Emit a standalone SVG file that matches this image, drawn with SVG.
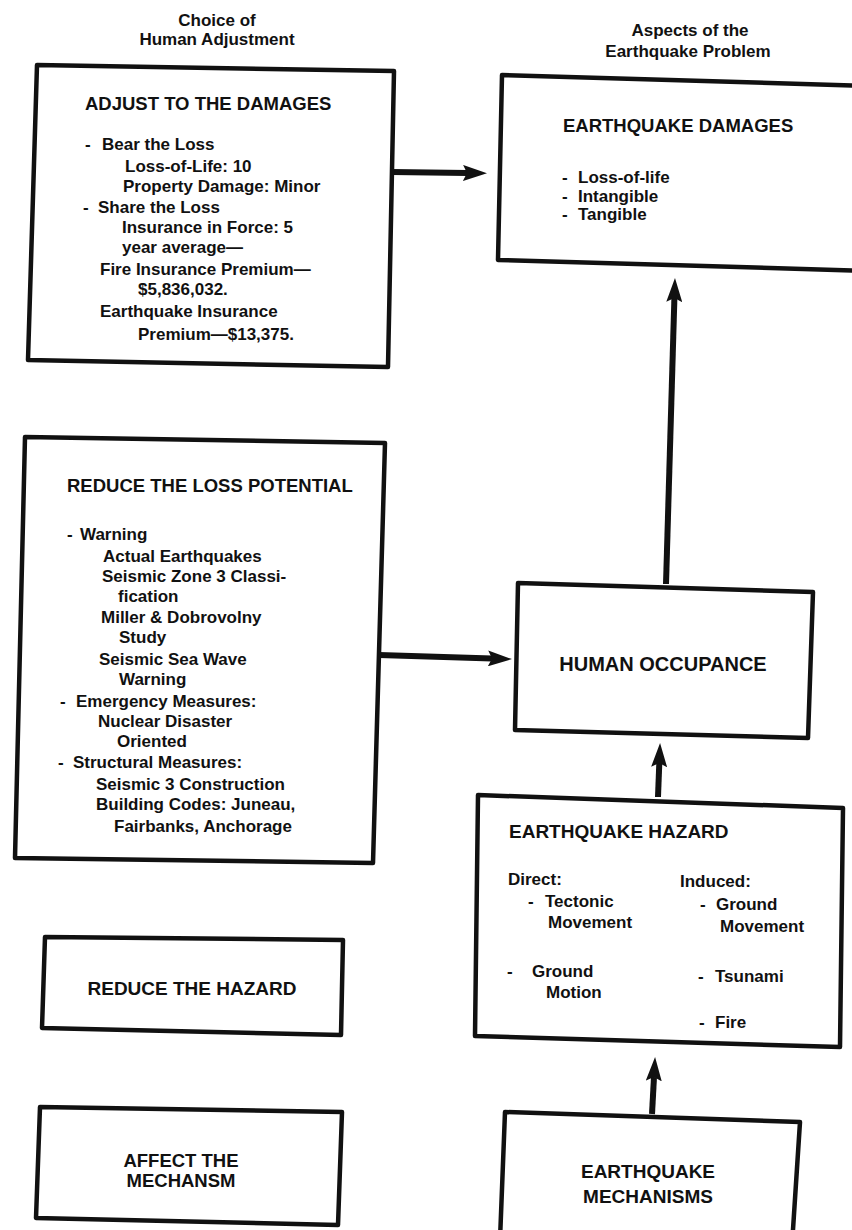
<svg xmlns="http://www.w3.org/2000/svg" width="852" height="1230" viewBox="0 0 852 1230">
<style>
text{font-family:"Liberation Sans",Arial,sans-serif;font-weight:bold;fill:#111}
.hd{font-size:17px;text-anchor:middle}
.tt{font-size:18.5px}
.bd{font-size:17px}
.c{text-anchor:middle}
.box{fill:#fff;stroke:#111;stroke-width:4.5;stroke-linejoin:round}
.con{fill:none;stroke:#111;stroke-width:6;stroke-linecap:butt}
</style>
<defs>
<marker id="ah" viewBox="0 0 24 16" refX="4" refY="8" markerWidth="24" markerHeight="16" markerUnits="userSpaceOnUse" orient="auto">
<path d="M0,0 L24,8 L0,16 L4,8 Z" fill="#111"/>
</marker>
</defs>
<rect width="852" height="1230" fill="#fff"/>

<g id="headings">
<text class="hd" x="217" y="26">Choice of</text>
<text class="hd" x="217" y="45">Human Adjustment</text>
<text class="hd" x="690" y="36">Aspects of the</text>
<text class="hd" x="688" y="57">Earthquake Problem</text>
</g>

<g id="connectors">
<line class="con" x1="392" y1="172" x2="467" y2="173" marker-end="url(#ah)"/>
<line class="con" x1="379" y1="655" x2="492" y2="658.5" marker-end="url(#ah)"/>
<line class="con" x1="666" y1="584" x2="674.4" y2="298" marker-end="url(#ah)"/>
<line class="con" x1="658" y1="797" x2="659.3" y2="763" marker-end="url(#ah)"/>
<line class="con" x1="652" y1="1114" x2="654" y2="1077" marker-end="url(#ah)"/>
</g>

<g id="adjust-damages">
<polygon class="box" points="37,65 394,71 388,367 28,360"/>
<text class="tt" x="85" y="110">ADJUST TO THE DAMAGES</text>
<text class="bd" x="85" y="150">-</text>
<text class="bd" x="102" y="150">Bear the Loss</text>
<text class="bd" x="125" y="172">Loss-of-Life:  10</text>
<text class="bd" x="123" y="192">Property Damage:  Minor</text>
<text class="bd" x="83" y="213">-</text>
<text class="bd" x="98" y="213">Share the Loss</text>
<text class="bd" x="122" y="233">Insurance in Force:  5</text>
<text class="bd" x="122" y="253">year average—</text>
<text class="bd" x="100" y="275">Fire Insurance Premium—</text>
<text class="bd" x="138" y="295">$5,836,032.</text>
<text class="bd" x="100" y="317">Earthquake Insurance</text>
<text class="bd" x="138" y="340">Premium—$13,375.</text>
</g>

<g id="earthquake-damages">
<polygon class="box" points="502,75 870,86 870,271 498,260"/>
<text class="tt" x="563" y="132">EARTHQUAKE DAMAGES</text>
<text class="bd" x="562" y="183">-</text>
<text class="bd" x="578" y="183">Loss-of-life</text>
<text class="bd" x="562" y="202">-</text>
<text class="bd" x="578" y="202">Intangible</text>
<text class="bd" x="562" y="220">-</text>
<text class="bd" x="578" y="220">Tangible</text>
</g>

<g id="reduce-loss">
<polygon class="box" points="25,437 385,443 373,863 15,858"/>
<text class="tt" x="67" y="492">REDUCE THE LOSS POTENTIAL</text>
<text class="bd" x="67" y="540">-</text>
<text class="bd" x="80" y="540">Warning</text>
<text class="bd" x="103" y="562">Actual Earthquakes</text>
<text class="bd" x="102" y="582">Seismic Zone 3 Classi-</text>
<text class="bd" x="118" y="602">fication</text>
<text class="bd" x="101" y="623">Miller &amp; Dobrovolny</text>
<text class="bd" x="119" y="643">Study</text>
<text class="bd" x="99" y="665">Seismic Sea Wave</text>
<text class="bd" x="119" y="685">Warning</text>
<text class="bd" x="60" y="707">-</text>
<text class="bd" x="76" y="707">Emergency Measures:</text>
<text class="bd" x="98" y="727">Nuclear Disaster</text>
<text class="bd" x="117" y="747">Oriented</text>
<text class="bd" x="58" y="768">-</text>
<text class="bd" x="73" y="768">Structural Measures:</text>
<text class="bd" x="96" y="790">Seismic 3 Construction</text>
<text class="bd" x="96" y="810">Building Codes:  Juneau,</text>
<text class="bd" x="114" y="832">Fairbanks, Anchorage</text>
</g>

<g id="human-occupance">
<polygon class="box" points="518,583 813,592 808,738 515,730"/>
<text class="c" x="663" y="671" style="font-size:20px">HUMAN OCCUPANCE</text>
</g>

<g id="earthquake-hazard">
<polygon class="box" points="478,795 843,808 840,1047 475,1036"/>
<text class="tt" x="509" y="838" style="font-size:19px">EARTHQUAKE HAZARD</text>
<text class="bd" x="508" y="885">Direct:</text>
<text class="bd" x="528" y="907">-</text>
<text class="bd" x="545" y="907">Tectonic</text>
<text class="bd" x="548" y="928">Movement</text>
<text class="bd" x="507" y="977">-</text>
<text class="bd" x="532" y="977">Ground</text>
<text class="bd" x="546" y="998">Motion</text>
<text class="bd" x="680" y="887">Induced:</text>
<text class="bd" x="700" y="910">-</text>
<text class="bd" x="716" y="910">Ground</text>
<text class="bd" x="720" y="932">Movement</text>
<text class="bd" x="698" y="982">-</text>
<text class="bd" x="715" y="982">Tsunami</text>
<text class="bd" x="699" y="1028">-</text>
<text class="bd" x="715" y="1028">Fire</text>
</g>

<g id="reduce-hazard">
<polygon class="box" points="45,937 343,940 341,1035 42,1028"/>
<text class="c" x="192" y="995" style="font-size:19px">REDUCE THE HAZARD</text>
</g>

<g id="affect-mechanism">
<polygon class="box" points="40,1107 342,1112 338,1225 36,1218"/>
<text class="c" x="181" y="1167" style="font-size:18.5px">AFFECT THE</text>
<text class="c" x="181" y="1187" style="font-size:18.5px">MECHANSM</text>
</g>

<g id="earthquake-mechanisms">
<polygon class="box" points="505,1112 800,1122 792,1245 500,1240"/>
<text class="c" x="648" y="1178" style="font-size:19px">EARTHQUAKE</text>
<text class="c" x="648" y="1203" style="font-size:19px">MECHANISMS</text>
</g>
</svg>
